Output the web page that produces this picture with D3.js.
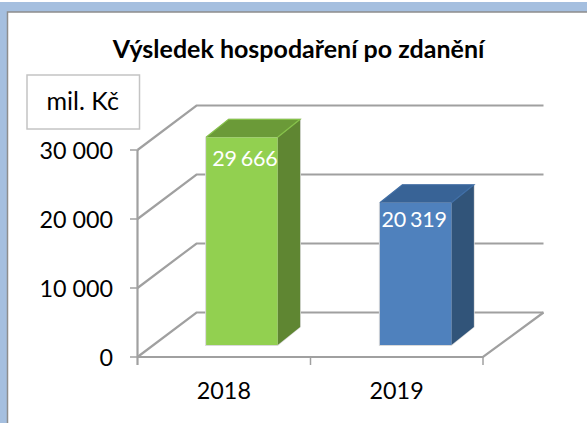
<!DOCTYPE html>
<html><head><meta charset="utf-8">
<script src="https://cdn.jsdelivr.net/npm/d3@7"></script>
<style>html,body{margin:0;padding:0;background:#fff}svg{display:block}text{font-family:Lato,"Open Sans",sans-serif}</style>
</head><body><svg id="c" width="587" height="423"></svg>
<script>
const titleText = "Výsledek hospodaření po zdanění";
const unitText = "mil. Kč";
const categories = ["2018","2019"];
const values = [29666,20319];
const labels = ["29 666","20 319"];
const yTicks = [0,10000,20000,30000];
const tickLabels = ["0","10 000","20 000","30 000"];
const frontColors = ["#92d050","#4f81bd"];
const sideColors = ["#5f8632","#315479"];
const topColors = ["#6b9a38","#386396"];
const edgeColors = ["#86c24a","#3f6ea6"];

const svg = d3.select("#c");
svg.append("rect").attr("x",0).attr("y",2).attr("width",587).attr("height",421).attr("fill","#a5bfdf");
svg.append("rect").attr("x",7.5).attr("y",12).attr("width",581).attr("height",413).attr("fill","#fff").attr("stroke","#8d8d8d").attr("stroke-width",1.5);

const y = d3.scaleLinear().domain([0,30000]).range([357,150]);
const yBar = d3.scaleLinear().domain([0,30000]).range([345,135]);
const x = d3.scaleBand().domain(categories).range([137.5,483]);
const xBar = d3.scaleBand().domain(categories).range([155,502.5]);
const backDx = 59, backDy = 44.5, grid = "#a0a0a0";
const xEnd = 543.5;

yTicks.forEach((t,i)=>{
  const p = d3.path();
  p.moveTo(137.5,y(t)); p.lineTo(137.5+backDx,y(t)-backDy); p.lineTo(xEnd,y(t)-backDy);
  svg.append("path").attr("d",p.toString()).attr("fill","none").attr("stroke",grid).attr("stroke-width",2.2);
  svg.append("line").attr("x1",130).attr("x2",137.5).attr("y1",y(t)).attr("y2",y(t)).attr("stroke",grid).attr("stroke-width",1.5);
  svg.append("text").attr("x",113).attr("y",y(t)+8.7).attr("text-anchor","end").attr("font-size",23.3).attr("fill","#000").text(tickLabels[i]);
});
svg.append("line").attr("x1",137.5).attr("x2",137.5).attr("y1",y(30000)).attr("y2",y(0)+8).attr("stroke",grid).attr("stroke-width",2.2);
const floor = d3.path();
floor.moveTo(137.5,y(0)); floor.lineTo(483,y(0)); floor.lineTo(xEnd,y(0)-backDy);
svg.append("path").attr("d",floor.toString()).attr("fill","none").attr("stroke",grid).attr("stroke-width",2.2);
[310.5,483].forEach(v=>svg.append("line").attr("x1",v).attr("x2",v).attr("y1",y(0)).attr("y2",y(0)+8).attr("stroke",grid).attr("stroke-width",1.5));

const bw = 71.5, dDx = 22.5, dDy = 18;
const labelDrop = [28.5,24];
const labelShift = [3,-1.5];
categories.forEach((c,i)=>{
  const x0 = xBar(c)+xBar.bandwidth()/2-bw/2, x1 = x0+bw, yb = yBar(0), yt = yBar(values[i]);
  const poly = pts => pts.map(q=>q.join(",")).join(" ");
  svg.append("polygon").attr("points",poly([[x0-1,yb+1],[x0-1,yt],[x0+dDx,yt-dDy-0.8],[x1+dDx+0.8,yt-dDy-0.8],[x1+dDx+0.8,yb-dDy],[x1,yb+1]])).attr("fill","#d9d9d9");
  svg.append("polygon").attr("points",poly([[x1,yt],[x1+dDx,yt-dDy],[x1+dDx,yb-dDy],[x1,yb]])).attr("fill",sideColors[i]);
  svg.append("polygon").attr("points",poly([[x0,yt],[x0+dDx,yt-dDy],[x1+dDx,yt-dDy],[x1,yt]])).attr("fill",topColors[i]);
  svg.append("polyline").attr("points",poly([[x0,yt],[x0+dDx,yt-dDy],[x1+dDx,yt-dDy],[x1,yt]])).attr("fill","none").attr("stroke",edgeColors[i]).attr("stroke-width",1.2);
  svg.append("rect").attr("x",x0).attr("y",yt).attr("width",bw).attr("height",yb-yt).attr("fill",frontColors[i]);
  svg.append("text").attr("x",x0+bw/2+labelShift[i]).attr("y",yt+labelDrop[i]).attr("text-anchor","middle").attr("font-size",21.5).attr("letter-spacing",-0.2).attr("word-spacing",-1.5).attr("fill","#fff").text(labels[i]);
  svg.append("text").attr("x",x(c)+x.bandwidth()/2).attr("y",398.7).attr("text-anchor","middle").attr("font-size",23.3).attr("fill","#000").text(c);
});

svg.append("text").attr("x",298.5).attr("y",58.3).attr("text-anchor","middle").attr("font-size",25).attr("font-weight",700).attr("fill","#000").text(titleText);
svg.append("rect").attr("x",27).attr("y",75).attr("width",112.5).attr("height",54).attr("fill","#fff").attr("stroke","#c4c4c4").attr("stroke-width",1.5);
svg.append("text").attr("x",82.7).attr("y",110).attr("text-anchor","middle").attr("font-size",25).attr("fill","#000").text(unitText);
</script></body></html>
